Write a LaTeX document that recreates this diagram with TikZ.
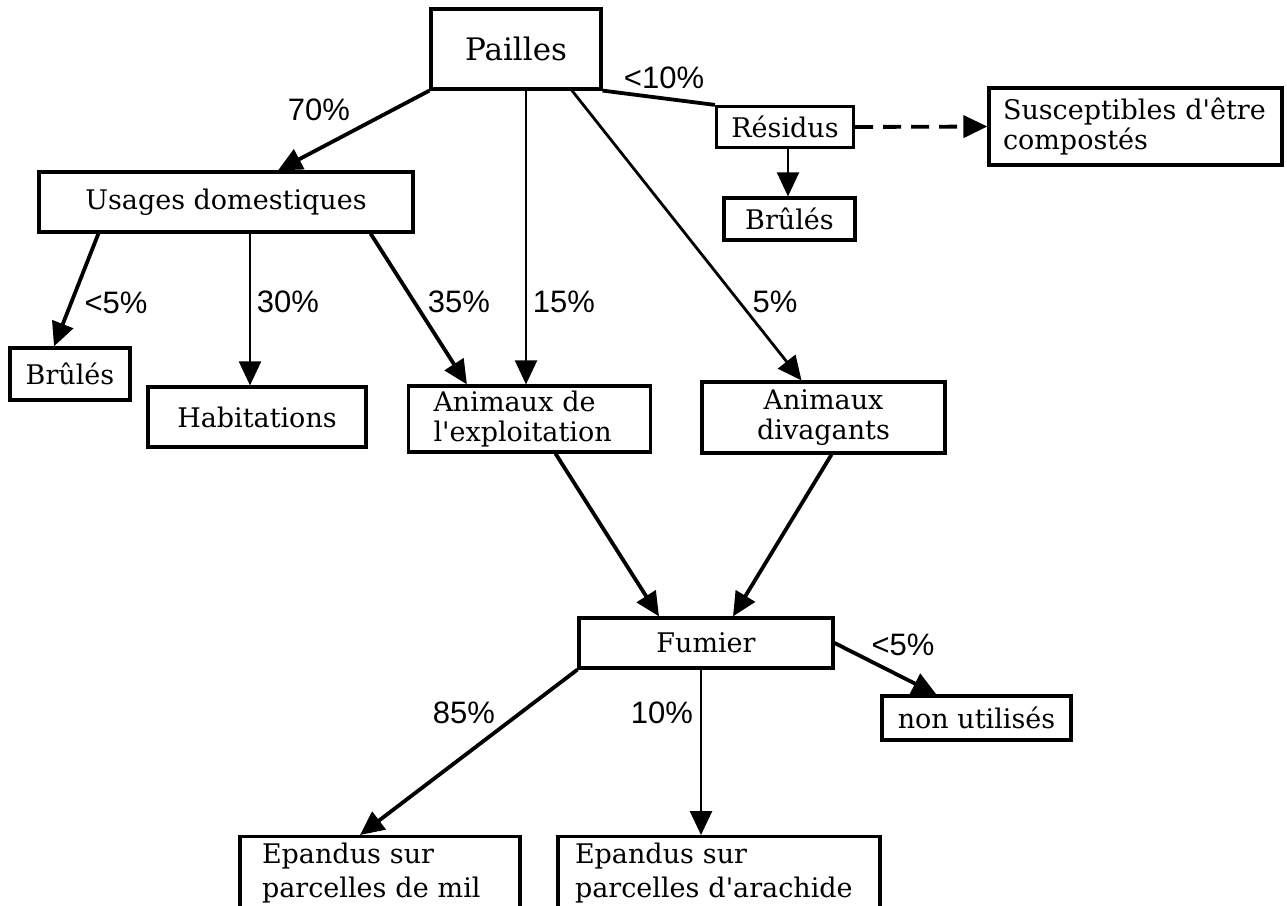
\documentclass[tikz,border=0pt]{standalone}
\usepackage{fontspec}
\setmainfont{DejaVu Serif}
\newfontfamily\pctfont{Liberation Sans}
\usetikzlibrary{arrows.meta, positioning}

\begin{document}
\begin{tikzpicture}[
    x=0.5pt, y=-0.5pt,
    box/.style={draw, line width=1.6pt, inner sep=0pt, align=center, font=\fontsize{13.5}{15}\selectfont},
    pct/.style={inner sep=0pt, font=\pctfont\fontsize{15.5}{17}\selectfont},
    arr/.style={line width=1.9pt, -{Triangle[length=12pt, width=11pt]}},
    thinarr/.style={arr, line width=1.1pt}
]
    \useasboundingbox (0,0) rectangle (1287,906);
    \clip (0,0) rectangle (1287,906);

    % Top level
    \node[box, font=\fontsize{15.5}{17}\selectfont, minimum width=85pt, minimum height=40pt] (pailles) at (516,49) {Pailles};
    \node[box, minimum width=187pt, minimum height=30pt] (usages) at (226,202) {Usages domestiques};
    \node[box, minimum width=68.5pt, minimum height=20.5pt] (residus) at (785,127) {Résidus};
    \node[box, minimum width=65.5pt, minimum height=21pt] (brulesR) at (789.5,219) {Brûlés};
    \node[box, align=left, text width=132.5pt, inner xsep=7pt, minimum height=38.5pt] (compost) at (1135.5,126.5) {Susceptibles d\textquotesingle être\\compostés};

    % Second level
    \node[box, minimum width=60pt, minimum height=26pt] (brulesL) at (70,374) {Brûlés};
    \node[box, minimum width=109pt, minimum height=30pt] (habit) at (257,417) {Habitations};
    \node[box, align=left, text width=96pt, inner xsep=12.5pt, minimum height=33pt] (exploit) at (529.5,419) {Animaux de\\l\textquotesingle exploitation};
    \node[box, minimum width=121.5pt, minimum height=35.5pt] (divag) at (823.5,417.5) {Animaux\\divagants};

    % Fumier and its uses
    \node[box, minimum width=127pt, minimum height=25pt] (fumier) at (706,643) {Fumier};
    \node[box, minimum width=94.5pt, minimum height=22pt] (nonutil) at (976.5,718) {non utilisés};
    \node[box, font=\fontsize{13.5}{17}\selectfont, anchor=north, align=left, text width=118pt, inner xsep=11pt, inner ysep=3pt, text depth=30pt] (mil) at (380,835) {Epandus sur\\parcelles de mil};
    \node[box, font=\fontsize{13.5}{17}\selectfont, anchor=north, align=left, text width=144pt, inner xsep=8.5pt, inner ysep=3pt, text depth=30pt] (arach) at (719,835) {Epandus sur\\parcelles d\textquotesingle arachide};

    % Flows from Pailles
    \draw[arr] (pailles.south west) -- ([xshift=26pt]usages.north);
    \draw[line width=1.9pt] (pailles.south east) -- (residus.north west);
    \draw[thinarr] ([xshift=5pt]pailles.south) -- ([xshift=5pt]pailles.south |- exploit.north);
    \draw[thinarr, line width=1.4pt] ([xshift=28pt]pailles.south) -- ([xshift=-11pt]divag.north);
    \draw[arr, dash pattern=on 9pt off 5pt] (residus.east) -- (compost.west);
    \draw[thinarr] ([xshift=1.5pt]residus.south) -- ([xshift=1.5pt]residus.south |- brulesR.north);

    % Flows from Usages domestiques
    \draw[arr] ([xshift=30.5pt]usages.south west) -- ([xshift=-8pt]brulesL.north);
    \draw[thinarr] ([xshift=12pt]usages.south) -- ([xshift=12pt]usages.south |- habit.north);
    \draw[arr] ([xshift=-22pt]usages.south east) -- ([xshift=30pt]exploit.north west);

    % Animaux -> Fumier
    \draw[arr] ([xshift=13pt]exploit.south) -- ([xshift=-23.5pt]fumier.north);
    \draw[arr] ([xshift=4pt]divag.south) -- ([xshift=13.5pt]fumier.north);

    % Flows from Fumier
    \draw[arr] (fumier.south west) -- ([xshift=-10pt]mil.north);
    \draw[thinarr, line width=1.4pt] ([xshift=-2.5pt]fumier.south) -- ([xshift=-2.5pt]fumier.south |- arach.north);
    \draw[arr] (fumier.east) -- ([xshift=28pt]nonutil.north west);

    % Percentages
    \node[pct] (p70) at (319,110) {70\%};
    \node[pct] (p10) at (664,78) {<10\%};
    \node[pct] (p5a) at (116,303) {<5\%};
    \node[pct] (p30) at (288,302) {30\%};
    \node[pct] (p35) at (459,302) {35\%};
    \node[pct] (p15) at (564,302) {15\%};
    \node[pct] (p5b) at (775,302) {5\%};
    \node[pct] (p5c) at (903,645) {<5\%};
    \node[pct] (p85) at (464,713) {85\%};
    \node[pct] (p10b) at (662,713) {10\%};

\end{tikzpicture}
\end{document}
